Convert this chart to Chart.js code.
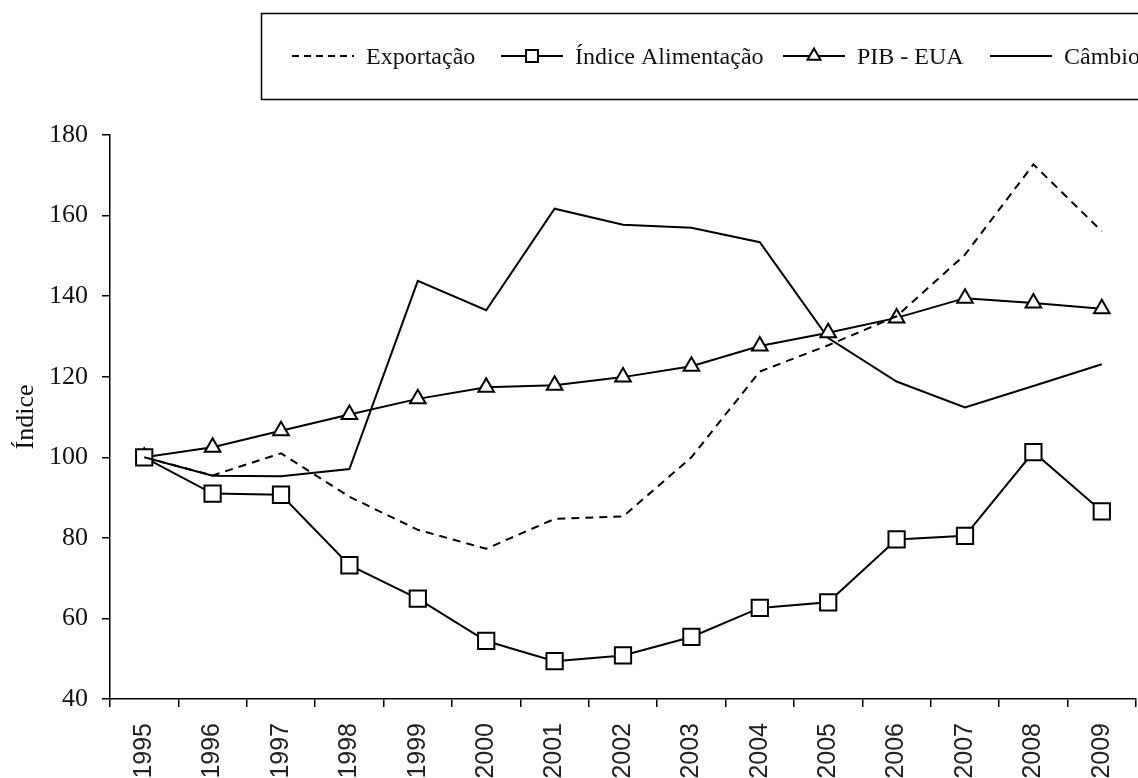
<!DOCTYPE html>
<html>
<head>
<meta charset="utf-8">
<script src="https://cdn.jsdelivr.net/npm/chart.js@4.4.1/dist/chart.umd.min.js"></script>
<style>
  html, body { margin: 0; padding: 0; background: #fff; }
  #chart { display: block; }
</style>
</head>
<body>
<canvas id="chart" width="1138" height="778"></canvas>
<script>
// values (index, 1995 = 100)
const YEARS = ["1995", "1996", "1997", "1998", "1999", "2000", "2001", "2002", "2003", "2004", "2005", "2006", "2007", "2008", "2009"];
const EXPORTACAO = [100, 95.5, 101, 90.2, 82, 77.3, 84.7, 85.3, 100, 121.3, 127.8, 135, 150.3, 172.7, 156.1];
const ALIMENTACAO = [100, 91, 90.7, 73.2, 64.9, 54.4, 49.4, 50.8, 55.4, 62.6, 64, 79.6, 80.5, 101.3, 86.6];
const PIB_EUA = [100, 102.5, 106.6, 110.6, 114.5, 117.4, 117.9, 119.9, 122.6, 127.6, 130.9, 134.6, 139.5, 138.3, 136.9];
const CAMBIO = [100, 95.4, 95.3, 97.1, 143.8, 136.5, 161.7, 157.7, 157, 153.4, 129.6, 118.8, 112.4, 117.7, 123.1];
const Y_TICKS = [40, 60, 80, 100, 120, 140, 160, 180];

const SERIF = "'Liberation Serif', 'DejaVu Serif', serif";
const SANS = "'Liberation Sans', Arial, sans-serif";
const INK = "#000";

// legend in a bordered box, drawn from the datasets' own styles
const legendBox = {
  id: "legendBox",
  afterDraw(chart) {
    const ctx = chart.ctx;
    const starts = [292, 501, 783, 990];
    const y = 56;
    ctx.save();
    ctx.strokeStyle = INK;
    ctx.lineWidth = 1.5;
    ctx.strokeRect(261.5, 13.5, 900, 86);
    ctx.font = "24px " + SERIF;
    ctx.textBaseline = "alphabetic";
    chart.data.datasets.forEach((ds, i) => {
      const x0 = starts[i];
      const x1 = x0 + 62;
      ctx.beginPath();
      ctx.setLineDash(ds.borderDash ? [7, 5] : []);
      ctx.lineWidth = ds.borderWidth;
      ctx.strokeStyle = ds.borderColor;
      ctx.moveTo(x0, y);
      ctx.lineTo(x1, y);
      ctx.stroke();
      ctx.setLineDash([]);
      if (ds.pointRadius > 0) {
        ctx.fillStyle = "#fff";
        ctx.strokeStyle = ds.borderColor;
        ctx.lineWidth = 2;
        Chart.helpers.drawPoint(ctx, {
          pointStyle: ds.pointStyle,
          radius: ds.pointStyle === "rect" ? 8.5 : 7.5,
          rotation: 0,
          borderWidth: 2,
        }, (x0 + x1) / 2, y);
      }
      ctx.fillStyle = "#111";
      ctx.fillText(ds.label, x1 + 12, 64);
    });
    ctx.restore();
  },
};

function series(label, data, extra) {
  return Object.assign({
    label,
    data,
    borderColor: INK,
    backgroundColor: "#fff",
    borderWidth: 2,
    tension: 0,
    pointRadius: 0,
    pointBackgroundColor: "#fff",
    pointBorderColor: INK,
    pointBorderWidth: 2,
  }, extra);
}

new Chart(document.getElementById("chart"), {
  type: "line",
  data: {
    labels: YEARS,
    datasets: [
      series("Exportação", EXPORTACAO, { borderDash: [8, 6] }),
      series("Índice Alimentação", ALIMENTACAO, { pointStyle: "rect", pointRadius: 11.5 }),
      series("PIB - EUA", PIB_EUA, { pointStyle: "triangle", pointRadius: 9 }),
      series("Câmbio", CAMBIO),
    ],
  },
  options: {
    responsive: false,
    animation: false,
    // markers overflow is not wanted here, the plot runs to the edge
    layout: { autoPadding: false, padding: { top: 135, right: 2, bottom: 0, left: 0 } },
    plugins: {
      legend: { display: false },
      tooltip: { enabled: false },
    },
    scales: {
      x: {
        type: "category",
        offset: true,
        afterFit(scale) {
          scale.height = 79;
          scale.paddingLeft = 0;
          scale.paddingRight = 0;
        },
        grid: { display: true, offset: true, drawOnChartArea: false, drawTicks: true, tickLength: 8, color: INK, lineWidth: 1.5 },
        border: { display: true, color: INK, width: 1.5 },
        ticks: {
          autoSkip: false,
          minRotation: 90,
          maxRotation: 90,
          padding: 16,
          color: "#222",
          font: { family: SANS, size: 25 },
        },
      },
      y: {
        min: 40,
        max: 180,
        afterFit(scale) {
          scale.width = 110;
          scale.paddingTop = 0;
          scale.paddingBottom = 0;
        },
        afterBuildTicks(scale) { scale.ticks = Y_TICKS.map((v) => ({ value: v })); },
        grid: { display: true, drawOnChartArea: false, drawTicks: true, tickLength: 8, color: INK, lineWidth: 1.5 },
        border: { display: true, color: INK, width: 1.5 },
        ticks: {
          padding: 14,
          color: "#111",
          font: { family: SERIF, size: 26 },
        },
        title: {
          display: true,
          text: "Índice",
          color: "#111",
          padding: { top: 11, bottom: 0 },
          font: { family: SERIF, size: 26, weight: "normal" },
        },
      },
    },
  },
  plugins: [legendBox],
});
</script>
</body>
</html>
